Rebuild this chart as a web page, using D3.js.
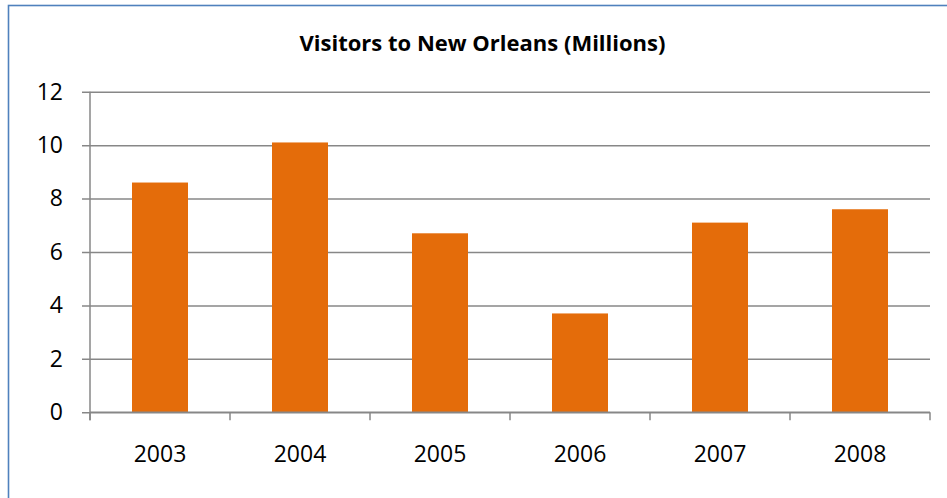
<!DOCTYPE html>
<html>
<head>
<meta charset="utf-8">
<script src="https://cdn.jsdelivr.net/npm/d3@7"></script>
<style>
  html, body { margin: 0; padding: 0; background: #fff; }
  svg { display: block; }
</style>
</head>
<body>
<script>
// chart data
var years = ["2003", "2004", "2005", "2006", "2007", "2008"];
var visitors = [8.6, 10.1, 6.7, 3.7, 7.1, 7.6];
var yTicks = [0, 2, 4, 6, 8, 10, 12];
var title = "Visitors to New Orleans (Millions)";

var width = 947, height = 498;
var barColour = "#E46C0A";
var gridColour = "#878787";
var font = "'Open Sans', sans-serif";

var svg = d3.select("body").append("svg")
    .attr("width", width)
    .attr("height", height);

// outer frame (only left/top edges visible in the crop)
svg.append("rect")
    .attr("x", 8.5).attr("y", 5.5)
    .attr("width", width + 20).attr("height", height + 20)
    .attr("fill", "#fff")
    .attr("stroke", "#4F81BD")
    .attr("stroke-width", 1.6);

svg.append("text")
    .attr("x", 482.5).attr("y", 51)
    .attr("text-anchor", "middle")
    .style("font-family", font)
    .style("font-weight", "bold")
    .style("font-size", "22px")
    .style("fill", "#000")
    .text(title);

var x = d3.scaleBand()
    .domain(years)
    .range([90, 930])
    .paddingInner(0.6)
    .paddingOuter(0.3);

var y = d3.scaleLinear()
    .domain([0, 12])
    .range([412.3, 91.7]);

// gridlines + y labels
var yAxis = svg.append("g")
    .attr("transform", "translate(90,0)")
    .call(d3.axisLeft(y).tickValues(yTicks).tickSize(-840).tickSizeOuter(0).tickPadding(27));
yAxis.select(".domain").remove();
yAxis.selectAll(".tick line")
    .attr("x1", -8)
    .attr("stroke", gridColour)
    .attr("stroke-width", 1.5);
yAxis.selectAll(".tick text")
    .style("font-family", font)
    .style("font-size", "23px")
    .style("fill", "#000");

// bars
svg.append("g")
    .selectAll("rect")
    .data(years)
    .join("rect")
    .attr("x", d => x(d))
    .attr("width", x.bandwidth())
    .attr("y", (d, i) => y(visitors[i]))
    .attr("height", (d, i) => y(0) - y(visitors[i]))
    .attr("fill", barColour);

// vertical axis line
svg.append("line")
    .attr("x1", 90).attr("x2", 90)
    .attr("y1", y(12)).attr("y2", y(0) + 8)
    .attr("stroke", gridColour)
    .attr("stroke-width", 1.5);

// x axis line, boundary ticks, labels
svg.append("line")
    .attr("x1", 90).attr("x2", 930)
    .attr("y1", y(0)).attr("y2", y(0))
    .attr("stroke", gridColour)
    .attr("stroke-width", 1.5);

var step = x.step();
var bounds = [x(years[0]) + x.bandwidth() / 2 - step / 2]
    .concat(years.map(d => x(d) + x.bandwidth() / 2 + step / 2));
svg.append("g")
    .selectAll("line")
    .data(bounds)
    .join("line")
    .attr("x1", d => d).attr("x2", d => d)
    .attr("y1", y(0)).attr("y2", y(0) + 8)
    .attr("stroke", gridColour)
    .attr("stroke-width", 1.5);

var xAxis = svg.append("g")
    .attr("transform", `translate(0,${y(0)})`)
    .call(d3.axisBottom(x).tickSize(0).tickPadding(33));
xAxis.select(".domain").remove();
xAxis.selectAll(".tick text")
    .style("font-family", font)
    .style("font-size", "23px")
    .style("fill", "#000");
</script>
</body>
</html>
